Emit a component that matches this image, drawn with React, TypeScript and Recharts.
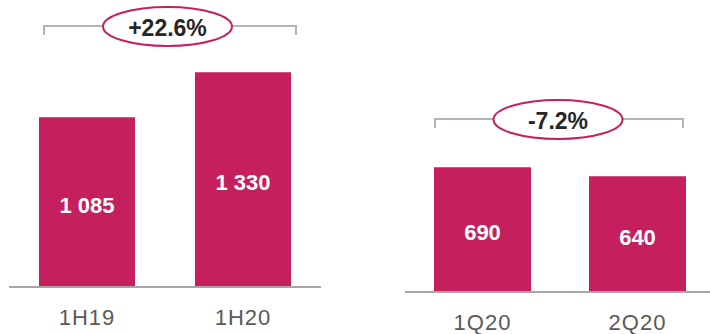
import React from 'react';
import { BarChart, Bar, XAxis, YAxis, LabelList } from 'recharts';

const halfCategories = ['1H19', '1H20'];
const halfValues = [1085, 1330];
const quarterCategories = ['1Q20', '2Q20'];
const quarterValues = [690, 640];
const halfChange = '+22.6%';
const quarterChange = '-7.2%';

const BAR = '#C51F5D';
const GREY = '#A6A6A6';
const FONT = '"Liberation Sans", Arial, sans-serif';

const fmt = (v: number) => {
  if (v >= 1000) {
    return `${Math.floor(v / 1000)}\u00a0${String(v % 1000).padStart(3, '0')}`;
  }
  return String(v);
};

const Tick = (props: any) => {
  const { x, y, payload } = props;
  return (
    <text
      x={x}
      y={y + 38}
      textAnchor="middle"
      fill="#595959"
      fontSize={22}
      fontFamily={FONT}
      letterSpacing={1}
    >
      {payload.value}
    </text>
  );
};

const ValueLabel = (props: any) => {
  const { x, y, width, height, value } = props;
  return (
    <text
      x={x + width / 2}
      y={y + height / 2 + 3}
      textAnchor="middle"
      dominantBaseline="central"
      fill="#FFFFFF"
      fontSize={22}
      fontWeight="bold"
      fontFamily={FONT}
    >
      {fmt(value)}
    </text>
  );
};

const Bracket = ({ x1, x2, y, cx, label }: any) => (
  <g>
    <path
      d={`M${x1},${y + 9} L${x1},${y} L${x2},${y} L${x2},${y + 9}`}
      fill="none"
      stroke="#AEB5BB"
      strokeWidth={2}
    />
    <ellipse cx={cx} cy={y + 0.5} rx={64.5} ry={19.5} fill="#FFFFFF" stroke={BAR} strokeWidth={2} />
    <text
      x={cx}
      y={y + 1.5}
      textAnchor="middle"
      dominantBaseline="central"
      fill="#262626"
      fontSize={23}
      fontWeight="bold"
      fontFamily={FONT}
    >
      {label}
    </text>
  </g>
);

export default function App() {
  const halfData = halfCategories.map((c, i) => ({ name: c, value: halfValues[i] }));
  const quarterData = quarterCategories.map((c, i) => ({ name: c, value: quarterValues[i] }));
  return (
    <div
      style={{
        position: 'absolute',
        left: 0,
        top: 0,
        width: 710,
        height: 334,
        overflow: 'hidden',
        background: '#FFFFFF',
      }}
    >
      <div style={{ position: 'absolute', left: 0, top: 0 }}>
        <BarChart width={330} height={334} data={halfData} margin={{ top: 41, right: 9, left: 9, bottom: 17 }}>
          <YAxis hide domain={[160, 1500]} allowDataOverflow />
          <XAxis
            dataKey="name"
            height={30}
            tickLine={false}
            tickSize={0}
            tickMargin={0}
            axisLine={{ stroke: GREY, strokeWidth: 2 }}
            tick={<Tick />}
          />
          <Bar dataKey="value" fill={BAR} barSize={96} isAnimationActive={false}>
            <LabelList dataKey="value" content={<ValueLabel />} />
          </Bar>
        </BarChart>
      </div>
      <div style={{ position: 'absolute', left: 380, top: 0 }}>
        <BarChart width={345} height={334} data={quarterData} margin={{ top: 39, right: 10, left: 25, bottom: 12 }}>
          <YAxis hide domain={[0, 1400]} allowDataOverflow />
          <XAxis
            dataKey="name"
            height={30}
            tickLine={false}
            tickSize={0}
            tickMargin={0}
            axisLine={{ stroke: GREY, strokeWidth: 2 }}
            tick={<Tick />}
          />
          <Bar dataKey="value" fill={BAR} barSize={97} isAnimationActive={false}>
            <LabelList dataKey="value" content={<ValueLabel />} />
          </Bar>
        </BarChart>
      </div>
      <svg width={710} height={334} style={{ position: 'absolute', left: 0, top: 0, pointerEvents: 'none' }}>
        <Bracket x1={44} x2={296} y={26} cx={167.5} label={halfChange} />
        <Bracket x1={435} x2={683} y={119} cx={558} label={quarterChange} />
      </svg>
    </div>
  );
}
